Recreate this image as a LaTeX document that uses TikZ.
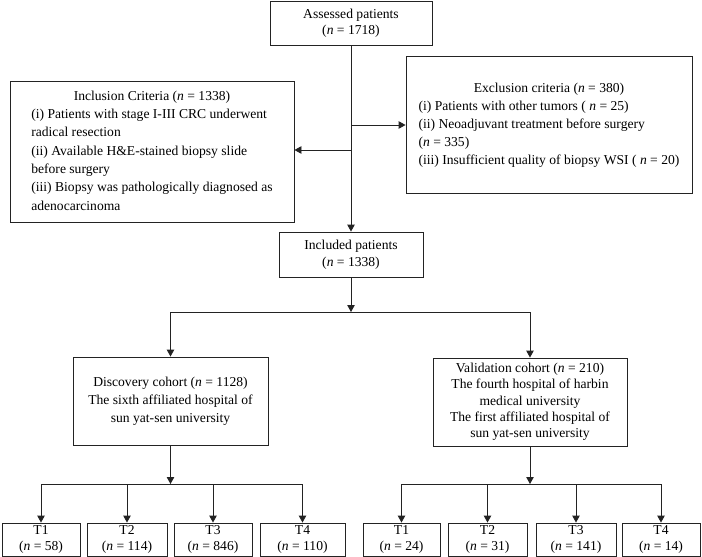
\documentclass[tikz,border=0pt]{standalone}
\usepackage{fontspec}
\setmainfont{Liberation Serif}
\usetikzlibrary{arrows.meta}
\newcommand{\nn}{\textit{n}}
\definecolor{linec}{RGB}{35,35,35}
\tikzset{
  bx/.style={draw=linec, line width=0.9pt, inner sep=0pt, align=center,
    font=\fontsize{13.6}{17}\selectfont},
  tbx/.style={bx, minimum height=33pt, font=\fontsize{13.6}{16}\selectfont},
  arr/.style={draw=linec, line width=0.9pt, -{Triangle[length=7pt,width=7.5pt]}},
  ln/.style={draw=linec, line width=0.9pt},
}
\begin{document}
\begin{tikzpicture}[x=1pt,y=-1pt]
\fill[white] (0,0) rectangle (702,557);
\useasboundingbox (0,0) rectangle (702,557);

\node[bx, minimum width=162pt, minimum height=44pt, font=\fontsize{13.6}{16}\selectfont] (ass) at (351,23.5)
  {Assessed patients\\(\nn{} = 1718)};

\node[bx, minimum width=284pt, minimum height=141pt, font=\fontsize{13.6}{18.3}\selectfont] (inc) at (152,151.5)
  {\begin{tabular}{@{}l@{}}
   \multicolumn{1}{@{}c@{}}{Inclusion Criteria (\nn{} = 1338)}\\
   (i) Patients with stage I-III CRC underwent\\
   radical resection\\
   (ii) Available H\&E-stained biopsy slide\\
   before surgery\\
   (iii) Biopsy was pathologically diagnosed as\\
   adenocarcinoma
   \end{tabular}};

\node[bx, minimum width=286pt, minimum height=137pt, font=\fontsize{13.6}{18}\selectfont] (exc) at (549,124.5)
  {\begin{tabular}{@{}l@{}}
   \multicolumn{1}{@{}c@{}}{Exclusion criteria (\nn{} = 380)}\\
   (i) Patients with other tumors ( \nn{} = 25)\\
   (ii) Neoadjuvant treatment before surgery\\
   (\nn{} = 335)\\
   (iii) Insufficient quality of biopsy WSI ( \nn{} = 20)
   \end{tabular}};

\node[bx, minimum width=144pt, minimum height=45pt] (incl) at (351,254.5)
  {Included patients\\(\nn{} = 1338)};

\node[bx, minimum width=195pt, minimum height=88pt, font=\fontsize{13.6}{18}\selectfont] (disc) at (170.5,401)
  {Discovery cohort (\nn{} = 1128)\\The sixth affiliated hospital of\\sun yat-sen university};

\node[bx, minimum width=194pt, minimum height=88pt, font=\fontsize{13.6}{16.3}\selectfont] (val) at (530,402)
  {Validation cohort (\nn{} = 210)\\The fourth hospital of harbin\\medical university\\The first affiliated hospital of\\sun yat-sen university};

\node[tbx, minimum width=78pt] (a1) at (41,539.5) {T1\\(\nn{} = 58)};
\node[tbx, minimum width=80pt] (a2) at (127,539.5) {T2\\(\nn{} = 114)};
\node[tbx, minimum width=78pt] (a3) at (213,539.5) {T3\\(\nn{} = 846)};
\node[tbx, minimum width=85pt] (a4) at (302.5,539.5) {T4\\(\nn{} = 110)};

\node[tbx, minimum width=77pt] (b1) at (401.5,539.5) {T1\\(\nn{} = 24)};
\node[tbx, minimum width=79pt] (b2) at (487.5,539.5) {T2\\(\nn{} = 31)};
\node[tbx, minimum width=80pt] (b3) at (576,539.5) {T3\\(\nn{} = 141)};
\node[tbx, minimum width=78pt] (b4) at (661,539.5) {T4\\(\nn{} = 14)};

\coordinate (j1) at (351,125);
\coordinate (j2) at (351,150);
\coordinate (h1) at (351,312);
\coordinate (h2) at (171,484);
\coordinate (h3) at (530,484);

\draw[arr] (ass.south) -- (incl.north);
\draw[arr] (j1) -- (j1 -| exc.west);
\draw[arr] (j2) -- (j2 -| inc.east);
\draw[arr] (incl.south) -- (h1);
\draw[ln] (disc.north |- h1) -- (val.north |- h1);
\draw[arr] (disc.north |- h1) -- (disc.north);
\draw[arr] (val.north |- h1) -- (val.north);

\draw[arr] (disc.south) -- (disc.south |- h2);
\draw[ln] (a1.north |- h2) -- (a4.north |- h2);
\foreach \t in {a1,a2,a3,a4} \draw[arr] (\t.north |- h2) -- (\t.north);

\draw[arr] (val.south) -- (val.south |- h3);
\draw[ln] (b1.north |- h3) -- (b4.north |- h3);
\foreach \t in {b1,b2,b3,b4} \draw[arr] (\t.north |- h3) -- (\t.north);
\end{tikzpicture}
\end{document}
